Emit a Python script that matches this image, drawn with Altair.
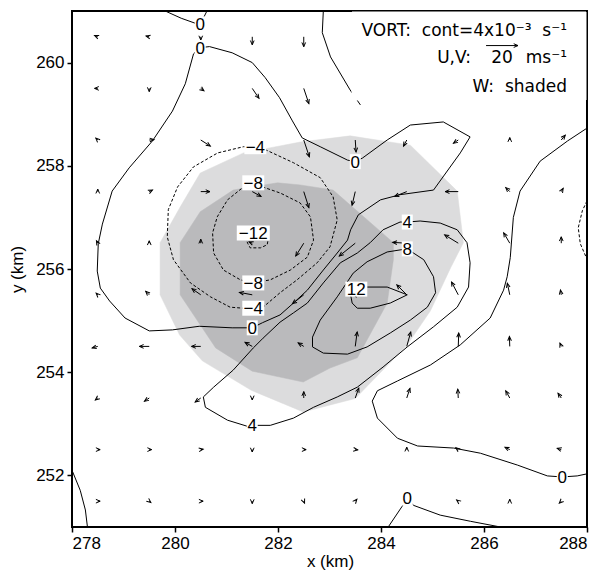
import altair as alt
import numpy as np
import pandas as pd

# ---------------- data ----------------
x_ticks = [278, 280, 282, 284, 286, 288]
y_ticks = [252, 254, 256, 258, 260]

# W shading (km, km)
w_light = [(279.71, 256.51), (280.10, 257.20), (280.49, 257.86), (281.33, 258.25), (282.43, 258.46),
           (283.40, 258.58), (284.57, 258.40), (285.48, 257.51), (285.60, 256.51), (285.35, 256.02),
           (284.96, 255.19), (284.51, 254.53), (283.50, 253.49), (282.49, 253.23), (281.48, 253.65),
           (280.53, 254.22), (280.09, 254.72), (279.71, 255.50)]
w_dark = [(280.10, 256.51), (280.49, 257.11), (281.13, 257.53), (281.99, 257.67), (282.43, 257.63),
          (283.07, 257.53), (284.24, 256.51), (284.24, 256.18), (284.12, 255.34), (283.54, 254.28),
          (283.01, 254.08), (282.49, 253.81), (281.50, 254.02), (280.79, 254.47), (280.10, 255.50)]

# vorticity contours (km, km)
c0_top = [(279.81, 261.0), (280.12, 260.86), (280.40, 260.76), (280.55, 260.86), (280.62, 261.0)]
c0_loop = [(280.49, 260.29), (280.36, 260.17), (280.20, 259.59), (279.95, 259.06), (279.56, 258.48),
           (279.11, 257.96), (278.78, 257.51), (278.59, 256.87), (278.51, 256.49), (278.49, 255.96),
           (278.55, 255.63), (278.73, 255.38), (279.03, 255.05), (279.50, 254.80), (279.95, 254.82),
           (280.47, 254.89), (281.11, 254.86), (281.50, 254.86), (281.70, 254.96), (282.04, 255.11),
           (282.30, 255.34), (282.57, 255.59), (282.88, 255.98), (283.15, 256.31), (283.35, 256.56),
           (283.41, 256.76), (283.56, 257.05), (283.99, 257.34), (284.37, 257.44), (285.02, 257.53),
           (285.54, 258.25), (285.73, 258.56), (285.21, 258.85), (284.57, 258.79), (284.12, 258.50),
           (283.64, 258.15), (283.50, 258.08), (283.35, 258.11), (282.82, 258.37), (282.47, 258.54),
           (282.28, 258.87), (282.03, 259.32), (281.75, 259.71), (281.50, 260.00), (281.11, 260.19),
           (280.67, 260.31), (280.49, 260.29)]
c0_ne = [(282.88, 261.0), (282.86, 260.58), (283.02, 260.11), (283.40, 259.47), (283.60, 259.18)]
c0_east = [(288.0, 258.73), (287.62, 258.48), (287.09, 258.09), (286.70, 257.51), (286.57, 257.00),
           (286.51, 256.22), (286.45, 255.85), (286.38, 255.59), (286.12, 255.05), (285.54, 254.53),
           (284.96, 254.14), (284.32, 253.83), (283.93, 253.64), (283.83, 253.44), (283.93, 253.11),
           (284.32, 252.72), (284.71, 252.57), (285.41, 252.53), (285.93, 252.43), (286.65, 252.20),
           (287.23, 251.99), (287.52, 251.97), (287.81, 251.99), (288.0, 252.03)]
c0_south = [(284.14, 251.0), (284.41, 251.40), (284.51, 251.56), (284.63, 251.42), (285.15, 251.23),
            (285.74, 251.11), (286.32, 251.0)]
c0_sw = [(278.0, 252.10), (278.16, 251.71), (278.26, 251.33), (278.30, 251.0)]
cneg_east = [(288.0, 257.32), (287.91, 257.13), (287.83, 256.80), (287.87, 256.49), (288.0, 256.19)]
c4 = [(284.51, 256.91), (284.37, 256.91), (284.04, 256.76), (283.79, 256.51), (283.54, 256.31),
      (283.21, 256.12), (282.88, 255.73), (282.57, 255.34), (282.30, 255.15), (282.04, 254.97),
      (281.71, 254.66), (281.52, 254.47), (281.13, 254.04), (280.75, 253.71), (280.55, 253.52),
      (280.59, 253.32), (281.02, 253.07), (281.41, 252.95), (281.50, 252.97), (281.85, 252.97),
      (282.30, 253.11), (282.69, 253.32), (283.15, 253.52), (283.54, 253.71), (284.04, 254.10),
      (284.51, 254.49), (285.02, 254.88), (285.48, 255.26), (285.70, 255.65), (285.73, 256.12),
      (285.67, 256.51), (285.48, 256.76), (285.15, 256.89), (284.76, 256.93), (284.51, 256.91)]
c8 = [(284.51, 256.39), (284.37, 256.37), (284.12, 256.33), (283.73, 256.14), (283.46, 255.92),
      (283.15, 255.46), (282.82, 255.01), (282.67, 254.68), (282.67, 254.49), (282.88, 254.37),
      (283.35, 254.35), (283.73, 254.49), (284.18, 254.76), (284.57, 255.01), (284.90, 255.26),
      (285.06, 255.54), (285.02, 255.85), (284.83, 256.18), (284.63, 256.31), (284.51, 256.39)]
c12 = [(283.52, 255.61), (283.74, 255.65), (284.12, 255.65), (284.51, 255.50), (284.18, 255.34),
       (283.79, 255.24), (283.54, 255.24), (283.44, 255.34), (283.41, 255.50), (283.52, 255.61)]
cm4 = [(281.56, 258.37), (281.76, 258.31), (282.30, 258.06), (282.82, 257.77), (283.07, 257.40),
       (283.15, 256.95), (283.01, 256.43), (282.76, 256.12), (282.37, 255.79), (282.04, 255.54),
       (281.71, 255.26), (281.52, 255.24), (281.33, 255.24), (281.07, 255.26), (280.69, 255.46),
       (280.30, 255.73), (279.97, 256.18), (279.85, 256.62), (279.87, 257.15), (280.05, 257.59),
       (280.36, 257.98), (280.83, 258.25), (281.33, 258.37), (281.56, 258.37)]
cm8 = [(281.52, 257.67), (281.76, 257.57), (282.05, 257.47), (282.43, 257.28), (282.63, 257.01),
       (282.69, 256.56), (282.57, 256.23), (282.24, 255.98), (281.85, 255.79), (281.52, 255.73),
       (281.27, 255.79), (280.94, 255.98), (280.75, 256.31), (280.73, 256.70), (280.82, 257.01),
       (281.02, 257.34), (281.33, 257.59), (281.52, 257.67)]
cm12 = [(281.37, 256.62), (281.41, 256.50), (281.46, 256.41), (281.66, 256.41), (281.79, 256.47),
        (281.81, 256.58), (281.60, 256.68), (281.37, 256.62)]

contours = {"c0_top": (c0_top, 0), "c0_loop": (c0_loop, 0), "c0_ne": (c0_ne, 0), "c0_east": (c0_east, 0),
            "c0_south": (c0_south, 0), "c0_sw": (c0_sw, 0), "cneg_east": (cneg_east, -4), "c4": (c4, 4),
            "c8": (c8, 8), "c12": (c12, 12), "cm4": (cm4, -4), "cm8": (cm8, -8), "cm12": (cm12, -12)}

# contour labels
label_text = ["0", "0", "−4", "−8", "−12", "−8", "−4", "0", "0", "4", "8", "12", "4", "0", "0"]
label_x = [280.49, 280.49, 281.56, 281.52, 281.52, 281.52, 281.52, 281.50, 283.50, 284.51, 284.51,
           283.52, 281.50, 284.51, 287.52]
label_y = [260.75, 260.29, 258.37, 257.67, 256.70, 255.73, 255.24, 254.86, 258.08, 256.91, 256.39,
           255.61, 252.97, 251.56, 251.97]

# wind vectors (m/s) on a 1-km grid
vec_x = [278.5, 279.5, 280.5, 281.5, 282.5, 283.5, 284.5, 285.5, 286.5, 287.5]
vec_y = [260.5, 259.5, 258.5, 257.5, 256.5, 255.5, 254.5, 253.5, 252.5, 251.5]
N = None
u_rows = [
    [-2, -2, 0, 0, 0, N, N, N, N, N],
    [-2, 0, 2, 4.2, 3.2, N, N, N, N, N],
    [-1.2, 3, 6, 3.8, 3.5, 0.5, -2, -3, 0, 2.5],
    [0, 2, 5.8, 5.5, 3.2, -2, -7.5, -8.2, -2.5, 1.2],
    [-0.8, 0, 0, -2, -5, -10, -8.8, -8.5, -3.8, 0],
    [-1, -2.2, -5.5, -8, -7, -1.2, -6.2, -4.2, -1.5, -0.5],
    [-3.5, -6.2, -5.8, -4.5, -3.5, 1.2, 2.5, 0.3, -0.2, -0.8],
    [-1.5, -3, -3.5, 0, 0, 2.2, 2, -0.3, -2.5, -2],
    [1.5, 1.5, 1.5, 0, 1.5, 1.5, 0, -1.5, -3, -2.5],
    [1.5, 1, 1.5, 0, 0.5, 1, 0.5, -1, 0, -1.2],
]
v_rows = [
    [0.8, 0.5, -2, -5, -6.2, N, N, N, N, N],
    [0, -2, -1.5, -6.2, -9.5, N, N, N, N, N],
    [1.2, 0.2, -3.8, -5, -10.5, -7.5, -3.8, -2, 1.5, 3],
    [1.5, 1, 0, -3, -10, -8.5, -3, 0, 2.5, 2],
    [1.5, 1.5, 2.5, 0.8, -8, -8, 0.5, 5.2, 6.5, 4],
    [1, 2.2, 3.8, 1.5, -5.5, 0.5, 6.2, 8, 7.2, 3],
    [-1, 0, 0, 2.5, 2.2, 9, 9, 8.3, 6.2, 2],
    [-1.2, -2, -2.5, -1.2, 4, 6.2, 6, 5.5, 4.5, 3],
    [0, 0, 0.2, -1.5, 0, -0.2, 1.5, 1.2, 1.5, 0.8],
    [0, -0.8, 0, -1.5, -1.2, 1.2, 0.5, 0.8, 1.2, -1.2],
]
# reference vector: 20 m/s
key_x, key_y, key_u, key_v = [286.04], [260.33], [20], [0]
KM_PER_MS = 0.031  # arrow length scale (km per m/s)

# ---------------- tables ----------------
poly_rows = []
for name, pts in (("light", w_light), ("dark", w_dark)):
    for i, (px, py) in enumerate(pts + [pts[0]]):
        poly_rows.append({"poly": name, "ord": i, "x": px, "y": py})
poly_df = pd.DataFrame(poly_rows)

cont_rows = []
for cid, (pts, lev) in contours.items():
    for i, (px, py) in enumerate(pts):
        cont_rows.append({"cid": cid, "ord": i, "x": px, "y": py, "neg": int(lev < 0)})
cont_df = pd.DataFrame(cont_rows)

vec_rows = []
for j, yy in enumerate(vec_y):
    for i, xx in enumerate(vec_x):
        u, v = u_rows[j][i], v_rows[j][i]
        if u is None:
            continue
        vec_rows.append({"x": xx, "y": yy, "u": u, "v": v})
for xx, yy, u, v in zip(key_x, key_y, key_u, key_v):
    vec_rows.append({"x": xx, "y": yy, "u": u, "v": v})
vec_df = pd.DataFrame(vec_rows)
vec_df["xt"] = vec_df["x"] + vec_df["u"] * KM_PER_MS
vec_df["yt"] = vec_df["y"] + vec_df["v"] * KM_PER_MS
vec_df["ang"] = (np.degrees(np.arctan2(vec_df["u"], vec_df["v"])) + 360) % 360
key_df = vec_df.iloc[-1:].copy()
vec_df = vec_df.iloc[:-1]

box_w = {1: 11, 2: 22, 3: 33}
lab_df = pd.DataFrame({"t": label_text, "x": label_x, "y": label_y})
lab_df["shape"] = [
    f"M{-box_w[len(t)] / 2},-7.5H{box_w[len(t)] / 2}V7.5H{-box_w[len(t)] / 2}Z" for t in label_text
]

# ---------------- chart ----------------
FONT = "Liberation Sans"
LFONT = "DejaVu Sans"
xs = alt.Scale(domain=[278, 288], nice=False, zero=False)
ys = alt.Scale(domain=[251, 261], nice=False, zero=False)
xaxis = alt.Axis(values=x_ticks, format="d", title="x (km)", titleX=258, titleY=34,
                 titleAlign="center", titleBaseline="middle")
yaxis = alt.Axis(values=y_ticks, format="d", title="y (km)", titleX=-55, titleY=258,
                 titleAngle=270, titleAlign="center", titleBaseline="middle")


def X(f):
    return alt.X(f"{f}:Q", scale=xs, axis=xaxis)


def Y(f):
    return alt.Y(f"{f}:Q", scale=ys, axis=yaxis)


light = alt.Chart(poly_df).transform_filter(alt.datum.poly == "light").mark_line(
    fill="#dcdcdd", stroke="#dcdcdd", strokeWidth=0.5).encode(x=X("x"), y=Y("y"), order="ord:Q")
dark = alt.Chart(poly_df).transform_filter(alt.datum.poly == "dark").mark_line(
    fill="#bababc", stroke="#bababc", strokeWidth=0.5).encode(x=X("x"), y=Y("y"), order="ord:Q")

solid = alt.Chart(cont_df).transform_filter(alt.datum.neg == 0).mark_line(
    color="black", strokeWidth=1, clip=True).encode(x=X("x"), y=Y("y"), detail="cid:N", order="ord:Q")
dashed = alt.Chart(cont_df).transform_filter(alt.datum.neg == 1).mark_line(
    color="black", strokeWidth=1, strokeDash=[3, 2], clip=True).encode(
    x=X("x"), y=Y("y"), detail="cid:N", order="ord:Q")

HEAD = "M-0.5,1.15L0,0L0.5,1.15"
shafts = alt.Chart(vec_df).mark_rule(color="black", strokeWidth=1).encode(
    x=X("x"), y=Y("y"), x2="xt:Q", y2="yt:Q")
heads = alt.Chart(vec_df).mark_point(shape=HEAD, filled=False, stroke="black", strokeWidth=1,
                                      size=55, opacity=1).encode(
    x=X("xt"), y=Y("yt"), angle=alt.Angle("ang:Q", scale=None))

boxes = alt.Chart(lab_df).mark_point(filled=True, fill="white", stroke="white", strokeWidth=0,
                                     size=4, opacity=1).encode(
    x=X("x"), y=Y("y"), shape=alt.Shape("shape:N", scale=None, legend=None))
texts = alt.Chart(lab_df).mark_text(font=FONT, fontSize=17, color="black", align="center",
                                    baseline="middle", dy=1).encode(x=X("x"), y=Y("y"), text="t:N")

one = pd.DataFrame({"a": [0]})
legend_box = alt.Chart(one).mark_rect(fill="white", stroke="white").encode(
    x=alt.value(280), x2=alt.value(514), y=alt.value(1), y2=alt.value(89))

key_shaft = alt.Chart(key_df).mark_rule(color="black", strokeWidth=1).encode(
    x=X("x"), y=Y("y"), x2="xt:Q", y2="yt:Q")
key_head = alt.Chart(key_df).mark_point(shape=HEAD, filled=False, stroke="black", strokeWidth=1,
                                        size=55, opacity=1).encode(
    x=X("xt"), y=Y("yt"), angle=alt.Angle("ang:Q", scale=None))

NB = "\u00a0"
legend_items = [
    (f"VORT:{NB}{NB}cont=4x10⁻³{NB}{NB}s⁻¹", 495, 20, "right"),
    ("U,V:", 399, 47, "right"),
    ("20", 430, 47, "center"),
    ("ms⁻¹", 495, 47, "right"),
    (f"W:{NB}{NB}shaded", 495, 76, "right"),
]
leg_layers = [
    alt.Chart(one).mark_text(font=LFONT, fontSize=17, color="black", align=al, baseline="middle").encode(
        x=alt.value(px), y=alt.value(py), text=alt.value(t))
    for t, px, py, al in legend_items
]

chart = alt.layer(light, dark, solid, dashed, shafts, heads, boxes, texts,
                  legend_box, key_shaft, key_head, *leg_layers).properties(
    width=515, height=516,
    autosize=alt.AutoSizeParams(type="none"),
    padding={"left": 72, "top": 11, "right": 17, "bottom": 47},
).configure_view(stroke="black", strokeWidth=2).configure_axis(
    labelFont=FONT, labelFontSize=17, labelColor="black", titleFont=FONT, titleFontSize=17,
    titleFontWeight="normal", titleColor="black", tickColor="black", tickSize=5, tickWidth=1.5,
    domain=False, grid=False, labelPadding=3,
)

chart.save("out.html", embed_options={"renderer": "svg", "actions": False})
